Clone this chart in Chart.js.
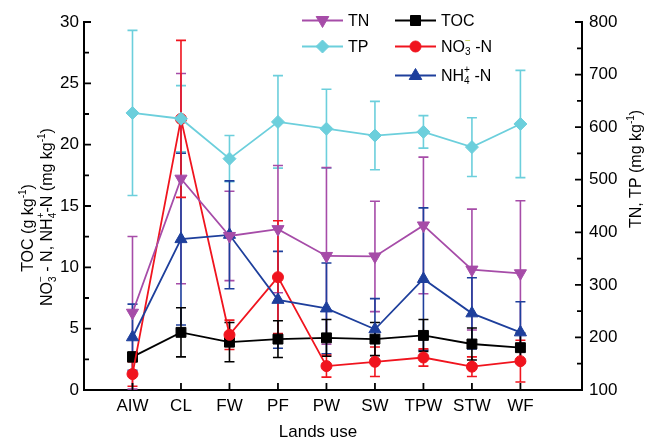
<!DOCTYPE html>
<html>
<head>
<meta charset="utf-8">
<script src="https://cdn.jsdelivr.net/npm/chart.js@4/dist/chart.umd.min.js"></script>
<style>
  html, body { margin: 0; padding: 0; background: #ffffff; }
  #wrap { width: 646px; height: 441px; position: relative; }
</style>
</head>
<body>
<div id="wrap"><canvas id="c" width="646" height="441"></canvas></div>
<script>
// ---- data ----
const categories = ['AIW', 'CL', 'FW', 'PF', 'PW', 'SW', 'TPW', 'STW', 'WF'];
const leftTicks = [0, 5, 10, 15, 20, 25, 30];
const rightTicks = [100, 200, 300, 400, 500, 600, 700, 800];

const toc    = [2.7, 4.7, 3.9, 4.15, 4.25, 4.15, 4.45, 3.75, 3.45];
const tocErr = [0.4, 2.0, 1.6, 1.5, 1.5, 1.35, 1.3, 1.3, 1.2];
const no3    = [1.3, 22.1, 4.5, 9.2, 1.95, 2.3, 2.65, 1.9, 2.35];
const no3Err = [1.0, 6.4, 1.2, 4.6, 0.9, 1.2, 0.7, 0.8, 1.7];
const nh4    = [4.3, 12.3, 12.65, 7.35, 6.65, 4.95, 9.05, 6.25, 4.7];
const nh4Err = [2.7, 7.0, 4.4, 3.95, 3.7, 2.5, 5.8, 2.9, 2.5];
const tn     = [247, 502, 393, 406, 355, 354, 413, 329, 322];
const tnErr  = [145, 200, 85, 121, 168, 105, 130, 115, 138];
const tp     = [627, 616, 540, 610, 597, 584, 591, 562, 606];
const tpErr  = [157, 63, 44, 88, 75, 65, 31, 56, 102];

// ---- styles ----
const cTN = '#a64ca8', cTP = '#6ccfdc', cTOC = '#000000', cNO3 = '#f0141e', cNH4 = '#1e3f9c';
const FONT = '"Liberation Sans", Arial, sans-serif';

function pts(arr) { return arr.map((v, i) => ({ x: i + 1, y: v })); }

const errorBars = {
  id: 'errorBars',
  beforeDatasetsDraw(chart) {
    const ctx = chart.ctx;
    chart.data.datasets.forEach((ds, di) => {
      const meta = chart.getDatasetMeta(di);
      const sc = chart.scales[ds.yAxisID];
      ctx.save();
      ctx.strokeStyle = ds.borderColor;
      ctx.lineWidth = 1.6;
      meta.data.forEach((el, i) => {
        const v = ds.data[i].y, e = ds.errors[i];
        const x = el.x;
        const yt = sc.getPixelForValue(v + e);
        const yb = sc.getPixelForValue(Math.max(v - e, sc.min));
        ctx.beginPath();
        ctx.moveTo(x, yt); ctx.lineTo(x, yb);
        ctx.moveTo(x - 5, yt); ctx.lineTo(x + 5, yt);
        ctx.moveTo(x - 5, yb); ctx.lineTo(x + 5, yb);
        ctx.stroke();
      });
      ctx.restore();
    });
  }
};

function rich(ctx, segs, size, measureOnly) {
  // segs: [text, kind, color]; kinds: n, sub, sup, stack (text = [sub, sup])
  let x = 0;
  const small = Math.round(size * 0.62);
  segs.forEach(s => {
    const kind = s[1] || 'n';
    const col = s[2];
    if (kind === 'n') {
      ctx.font = size + 'px ' + FONT;
      if (!measureOnly) { ctx.fillStyle = col || '#000'; ctx.fillText(s[0], x, 0); }
      x += ctx.measureText(s[0]).width;
    } else if (kind === 'sub' || kind === 'sup') {
      ctx.font = small + 'px ' + FONT;
      const dy = kind === 'sub' ? size * 0.3 : -size * 0.38;
      if (!measureOnly) { ctx.fillStyle = col || '#000'; ctx.fillText(s[0], x, dy); }
      x += ctx.measureText(s[0]).width;
    } else if (kind === 'stack') {
      ctx.font = small + 'px ' + FONT;
      const w1 = ctx.measureText(s[0][0]).width, w2 = ctx.measureText(s[0][1]).width;
      if (!measureOnly) {
        ctx.fillStyle = '#000';
        ctx.fillText(s[0][0], x, size * 0.3);
        ctx.fillStyle = col || '#000';
        ctx.fillText(s[0][1], x, -size * 0.4);
      }
      x += Math.max(w1, w2);
    }
  });
  return x;
}

function richCentered(ctx, segs, size, cx, cy) {
  ctx.save();
  ctx.translate(cx, cy); ctx.rotate(-Math.PI / 2);
  ctx.textBaseline = 'middle'; ctx.textAlign = 'left';
  const w = rich(ctx, segs, size, true);
  ctx.translate(-w / 2, 0);
  rich(ctx, segs, size);
  ctx.restore();
}

function marker(ctx, style, x, y, color) {
  ctx.save();
  ctx.fillStyle = color; ctx.strokeStyle = color; ctx.lineWidth = 1;
  ctx.beginPath();
  if (style === 'rect') { ctx.rect(x - 5, y - 5, 10, 10); }
  else if (style === 'circle') { ctx.arc(x, y, 5.5, 0, Math.PI * 2); }
  else if (style === 'triUp') { ctx.moveTo(x, y - 7); ctx.lineTo(x + 6.3, y + 4); ctx.lineTo(x - 6.3, y + 4); ctx.closePath(); }
  else if (style === 'triDown') { ctx.moveTo(x, y + 7); ctx.lineTo(x + 6.3, y - 4); ctx.lineTo(x - 6.3, y - 4); ctx.closePath(); }
  else if (style === 'diamond') { ctx.moveTo(x, y - 6.5); ctx.lineTo(x + 6.5, y); ctx.lineTo(x, y + 6.5); ctx.lineTo(x - 6.5, y); ctx.closePath(); }
  ctx.fill(); ctx.stroke();
  ctx.restore();
}

const decor = {
  id: 'decor',
  afterDraw(chart) {
    const ctx = chart.ctx;
    const a = chart.chartArea;
    const yL = chart.scales.y, yR = chart.scales.y2, xs = chart.scales.x;
    ctx.save();
    ctx.strokeStyle = '#000'; ctx.lineWidth = 1.8;
    ctx.beginPath();
    for (let v = 0; v <= 30; v += 2.5) {
      const p = yL.getPixelForValue(v);
      const len = (v % 5 === 0) ? 7 : 5;
      ctx.moveTo(a.left, p); ctx.lineTo(a.left + len, p);
    }
    for (let v = 100; v <= 800; v += 50) {
      const p = yR.getPixelForValue(v);
      const len = (v % 100 === 0) ? 7 : 5;
      ctx.moveTo(a.right, p); ctx.lineTo(a.right - len, p);
    }
    categories.forEach((c, i) => {
      const p = xs.getPixelForValue(i + 1);
      ctx.moveTo(p, a.bottom); ctx.lineTo(p, a.bottom - 7);
    });
    ctx.stroke();
    ctx.restore();

    // axis titles
    ctx.save();
    ctx.textBaseline = 'middle';
    ctx.font = '17px ' + FONT;
    ctx.fillStyle = '#000';
    ctx.textAlign = 'center';
    ctx.fillText('Lands use', 318, 432);
    ctx.restore();

    richCentered(ctx, [['TOC (g kg'], ['-1', 'sup'], [')']], 16, 29, 228);
    richCentered(ctx, [['NO'], [['3', '\u2212'], 'stack'], [' - N, NH'], [['4', '+'], 'stack'], ['-N (mg kg'], ['-1', 'sup'], [')']], 16, 48, 217);
    richCentered(ctx, [['TN, TP (mg kg'], ['-1', 'sup'], [')']], 16, 637, 169);

    // legend
    const items = [
      { x: 302, y: 20.5, color: cTN, m: 'triDown', segs: [['TN']] },
      { x: 302, y: 46.5, color: cTP, m: 'diamond', segs: [['TP']] },
      { x: 395, y: 20.5, color: cTOC, m: 'rect', segs: [['TOC']] },
      { x: 395, y: 46.5, color: cNO3, m: 'circle', segs: [['NO'], [['3', '\u2212'], 'stack', '#bccb3a'], [' -N']] },
      { x: 395, y: 75.5, color: cNH4, m: 'triUp', segs: [['NH'], [['4', '+'], 'stack'], [' -N']] }
    ];
    items.forEach(it => {
      ctx.save();
      ctx.strokeStyle = it.color; ctx.lineWidth = 1.8;
      ctx.beginPath(); ctx.moveTo(it.x, it.y); ctx.lineTo(it.x + 41, it.y); ctx.stroke();
      marker(ctx, it.m, it.x + 20.5, it.y, it.color);
      ctx.translate(it.x + 46, it.y + 1);
      ctx.textBaseline = 'middle';
      ctx.textAlign = 'left';
      rich(ctx, it.segs, 16);
      ctx.restore();
    });
  }
};

const ds = (label, data, errs, yAxisID, color, style, radius, rotation, order) => ({
  label, data: pts(data), errors: errs, yAxisID,
  borderColor: color, backgroundColor: color,
  pointStyle: style, pointRadius: radius, pointRotation: rotation || 0,
  pointBorderWidth: 1, borderWidth: 1.8, tension: 0, order
});

new Chart(document.getElementById('c'), {
  type: 'line',
  data: {
    datasets: [
      ds('TP', tp, tpErr, 'y2', cTP, 'rectRot', 6.5, 0, 1),
      ds('TN', tn, tnErr, 'y2', cTN, 'triangle', 7, 180, 2),
      ds('NH4', nh4, nh4Err, 'y', cNH4, 'triangle', 7, 0, 3),
      ds('NO3', no3, no3Err, 'y', cNO3, 'circle', 5.5, 0, 4),
      ds('TOC', toc, tocErr, 'y', cTOC, 'rect', 7, 0, 5)
    ]
  },
  options: {
    responsive: false,
    animation: false,
    events: [],
    layout: { padding: { top: 22, left: 0, right: 0, bottom: 0 } },
    plugins: { legend: { display: false }, tooltip: { enabled: false } },
    scales: {
      x: {
        type: 'linear', min: 0, max: 10.27,
        afterBuildTicks: s => { s.ticks = categories.map((c, i) => ({ value: i + 1 })); },
        afterFit: s => { s.height = 51; },
        grid: { display: true, drawOnChartArea: false, drawTicks: false },
        border: { display: true, color: '#000', width: 2 },
        ticks: { autoSkip: false, maxRotation: 0, padding: 6, color: '#000',
                 font: { family: FONT, size: 17 },
                 callback: v => categories[v - 1] || '' }
      },
      y: {
        position: 'left', min: 0, max: 30,
        afterBuildTicks: s => { s.ticks = leftTicks.map(v => ({ value: v })); },
        afterFit: s => { s.width = 84; },
        grid: { display: true, drawOnChartArea: false, drawTicks: false },
        border: { display: true, color: '#000', width: 2 },
        ticks: { padding: 5, color: '#000', font: { family: FONT, size: 17 } }
      },
      y2: {
        position: 'right', min: 100, max: 800,
        afterBuildTicks: s => { s.ticks = rightTicks.map(v => ({ value: v })); },
        afterFit: s => { s.width = 64; },
        grid: { display: true, drawOnChartArea: false, drawTicks: false },
        border: { display: true, color: '#000', width: 2 },
        ticks: { padding: 7, color: '#000', font: { family: FONT, size: 17 } }
      }
    }
  },
  plugins: [errorBars, decor]
});
</script>
</body>
</html>
